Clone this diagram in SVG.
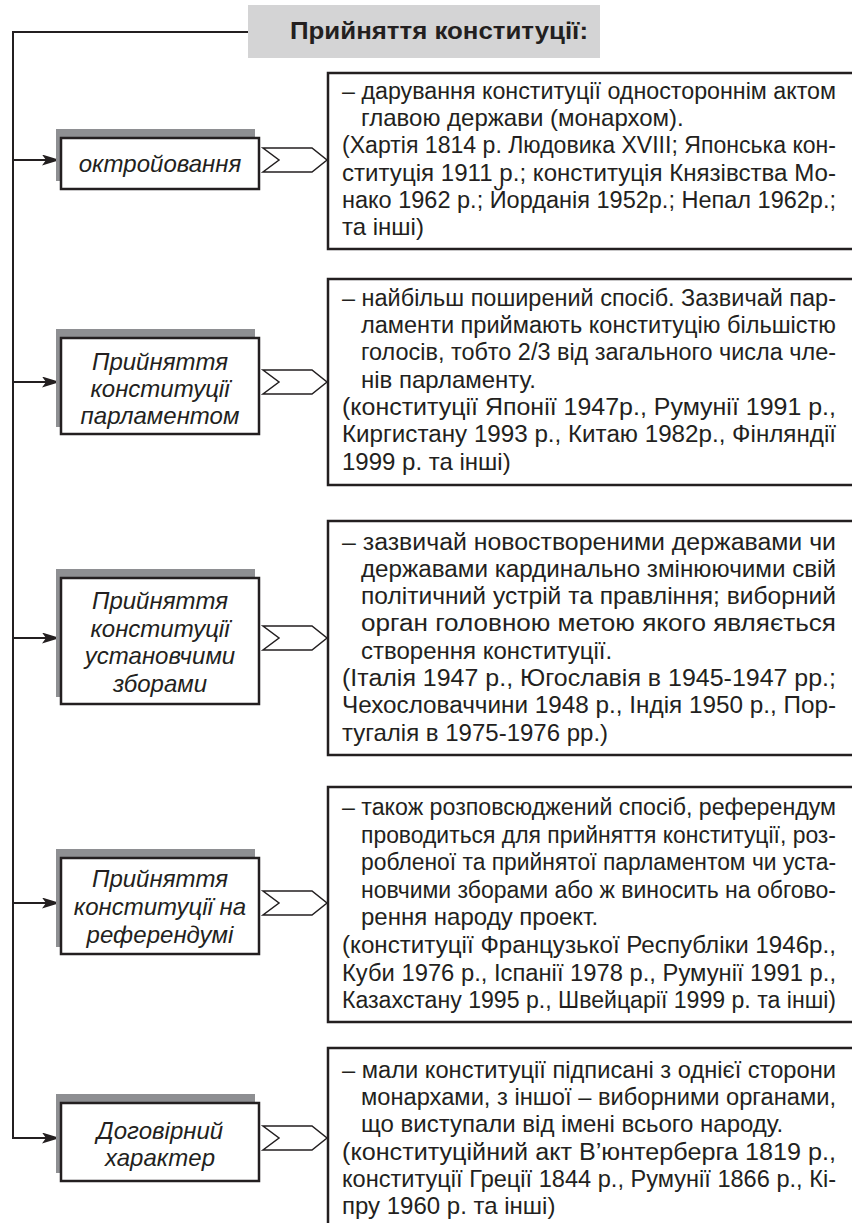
<svg xmlns="http://www.w3.org/2000/svg" width="852" height="1223" viewBox="0 0 852 1223">
<defs>
<marker id="ah" viewBox="0 0 18 11" refX="18" refY="5.5" markerWidth="18" markerHeight="11" markerUnits="userSpaceOnUse" orient="auto">
<path d="M0,0 L18,5.5 L0,11 L4,5.5 Z" fill="#231f20"/>
</marker>
<style>
.bg{fill:#ffffff}
.hdr{fill:#d4d4d5}
.hdrt{font-family:"Liberation Sans",Arial,sans-serif;font-weight:bold;font-size:23px;fill:#231f20}
.shadow{fill:#8e8f92}
.nbox{fill:#ffffff;stroke:#231f20;stroke-width:2.5}
.nt{font-family:"Liberation Sans",Arial,sans-serif;font-style:italic;font-size:24px;fill:#231f20;text-anchor:middle}
.tbox{fill:none;stroke:#231f20;stroke-width:2.5}
.tt{font-family:"Liberation Sans",Arial,sans-serif;font-size:24px;fill:#231f20}
.tj{font-family:"Liberation Sans",Arial,sans-serif;font-size:23px;fill:#231f20}
.chev{fill:#ffffff;stroke:#231f20;stroke-width:1.5;stroke-linejoin:miter}
.conn{fill:none;stroke:#231f20;stroke-width:2}
</style>
</defs>
<rect class="bg" x="0" y="0" width="852" height="1223"/>

<g id="header">
<rect class="hdr" x="248" y="5" width="352" height="53"/>
<text class="hdrt" x="290" y="39" textLength="298" lengthAdjust="spacingAndGlyphs">Прийняття конституції:</text>
</g>

<g id="connectors">
<path class="conn" d="M248,32 H13 V1138 H60" marker-end="url(#ah)"/>
<path class="conn" d="M13,160 H60" marker-end="url(#ah)"/>
<path class="conn" d="M13,382 H60" marker-end="url(#ah)"/>
<path class="conn" d="M13,638 H60" marker-end="url(#ah)"/>
<path class="conn" d="M13,903 H60" marker-end="url(#ah)"/>
<polygon class="chev" points="263,148 312,148 327,160 312,172 263,172 279,160"/>
<polygon class="chev" points="263,370 312,370 327,382 312,394 263,394 279,382"/>
<polygon class="chev" points="263,626 312,626 327,638 312,650 263,650 279,638"/>
<polygon class="chev" points="263,891 312,891 327,903 312,915 263,915 279,903"/>
<polygon class="chev" points="263,1126 312,1126 327,1138 312,1150 263,1150 279,1138"/>
</g>

<g id="node1">
<rect class="shadow" x="56" y="129" width="199" height="52"/>
<rect class="nbox" x="61" y="138" width="198" height="51"/>
<text class="nt" x="160" y="172">октройовання</text>
</g>

<g id="node2">
<rect class="shadow" x="56" y="329" width="199" height="98"/>
<rect class="nbox" x="61" y="338" width="198" height="96"/>
<text class="nt" x="160" y="370">Прийняття</text>
<text class="nt" x="160" y="397">конституції</text>
<text class="nt" x="160" y="424">парламентом</text>
</g>

<g id="node3">
<rect class="shadow" x="56" y="569" width="199" height="128"/>
<rect class="nbox" x="61" y="578" width="198" height="126"/>
<text class="nt" x="160" y="609">Прийняття</text>
<text class="nt" x="160" y="637">конституції</text>
<text class="nt" x="160" y="664">установчими</text>
<text class="nt" x="160" y="692">зборами</text>
</g>

<g id="node4">
<rect class="shadow" x="56" y="849" width="199" height="98"/>
<rect class="nbox" x="61" y="858" width="198" height="96"/>
<text class="nt" x="160" y="887">Прийняття</text>
<text class="nt" x="160" y="915">конституції на</text>
<text class="nt" x="160" y="943">референдумі</text>
</g>

<g id="node5">
<rect class="shadow" x="56" y="1094" width="199" height="79"/>
<rect class="nbox" x="61" y="1103" width="198" height="78"/>
<text class="nt" x="160" y="1139">Договірний</text>
<text class="nt" x="160" y="1166">характер</text>
</g>

<g id="desc1">
<path class="tbox" d="M856,73 H328 V249 H856"/>
<text class="tj" x="342" y="99" textLength="494" lengthAdjust="spacingAndGlyphs">– дарування конституції одностороннім актом</text>
<text class="tt" x="361" y="126">главою держави (монархом).</text>
<text class="tj" x="342" y="153" textLength="494" lengthAdjust="spacingAndGlyphs">(Хартія 1814 р. Людовика XVIII; Японська кон-</text>
<text class="tj" x="342" y="181" textLength="494" lengthAdjust="spacingAndGlyphs">ституція 1911 р.; конституція Князівства Мо-</text>
<text class="tj" x="342" y="208" textLength="494" lengthAdjust="spacingAndGlyphs">нако 1962 р.; Йорданія 1952р.; Непал 1962р.;</text>
<text class="tt" x="342" y="235">та інші)</text>
</g>

<g id="desc2">
<path class="tbox" d="M856,279 H328 V485 H856"/>
<text class="tj" x="342" y="306" textLength="494" lengthAdjust="spacingAndGlyphs">– найбільш поширений спосіб. Зазвичай пар-</text>
<text class="tj" x="361" y="333" textLength="475" lengthAdjust="spacingAndGlyphs">ламенти приймають конституцію більшістю</text>
<text class="tj" x="361" y="360" textLength="475" lengthAdjust="spacingAndGlyphs">голосів, тобто 2/3 від загального числа чле-</text>
<text class="tt" x="361" y="388">нів парламенту.</text>
<text class="tj" x="342" y="415" textLength="494" lengthAdjust="spacingAndGlyphs">(конституції Японії 1947р., Румунії 1991 р.,</text>
<text class="tj" x="342" y="442" textLength="494" lengthAdjust="spacingAndGlyphs">Киргистану 1993 р., Китаю 1982р., Фінляндії</text>
<text class="tt" x="342" y="470">1999 р. та інші)</text>
</g>

<g id="desc3">
<path class="tbox" d="M856,521 H328 V755 H856"/>
<text class="tj" x="342" y="550" textLength="494" lengthAdjust="spacingAndGlyphs">– зазвичай новоствореними державами чи</text>
<text class="tj" x="361" y="577" textLength="475" lengthAdjust="spacingAndGlyphs">державами кардинально змінюючими свій</text>
<text class="tj" x="361" y="604" textLength="475" lengthAdjust="spacingAndGlyphs">політичний устрій та правління; виборний</text>
<text class="tj" x="361" y="631" textLength="475" lengthAdjust="spacingAndGlyphs">орган головною метою якого являється</text>
<text class="tt" x="361" y="659">створення конституції.</text>
<text class="tj" x="342" y="686" textLength="494" lengthAdjust="spacingAndGlyphs">(Італія 1947 р., Югославія в 1945-1947 рр.;</text>
<text class="tj" x="342" y="713" textLength="494" lengthAdjust="spacingAndGlyphs">Чехословаччини 1948 р., Індія 1950 р., Пор-</text>
<text class="tt" x="342" y="741">тугалія в 1975-1976 рр.)</text>
</g>

<g id="desc4">
<path class="tbox" d="M856,787 H328 V1022 H856"/>
<text class="tj" x="342" y="815" textLength="494" lengthAdjust="spacingAndGlyphs">– також розповсюджений спосіб, референдум</text>
<text class="tj" x="361" y="843" textLength="475" lengthAdjust="spacingAndGlyphs">проводиться для прийняття конституції, роз-</text>
<text class="tj" x="361" y="870" textLength="475" lengthAdjust="spacingAndGlyphs">робленої та прийнятої парламентом чи уста-</text>
<text class="tj" x="361" y="898" textLength="475" lengthAdjust="spacingAndGlyphs">новчими зборами або ж виносить на обгово-</text>
<text class="tt" x="361" y="925">рення народу проект.</text>
<text class="tj" x="342" y="953" textLength="494" lengthAdjust="spacingAndGlyphs">(конституції Французької Республіки 1946р.,</text>
<text class="tj" x="342" y="981" textLength="494" lengthAdjust="spacingAndGlyphs">Куби 1976 р., Іспанії 1978 р., Румунії 1991 р.,</text>
<text class="tj" x="342" y="1008" textLength="494" lengthAdjust="spacingAndGlyphs">Казахстану 1995 р., Швейцарії 1999 р. та інші)</text>
</g>

<g id="desc5">
<path class="tbox" d="M856,1048 H328 V1230"/>
<text class="tj" x="342" y="1078" textLength="494" lengthAdjust="spacingAndGlyphs">– мали конституції підписані з однієї сторони</text>
<text class="tj" x="361" y="1105" textLength="475" lengthAdjust="spacingAndGlyphs">монархами, з іншої – виборними органами,</text>
<text class="tt" x="361" y="1132">що виступали від імені всього народу.</text>
<text class="tj" x="342" y="1160" textLength="494" lengthAdjust="spacingAndGlyphs">(конституційний акт В’юнтерберга 1819 р.,</text>
<text class="tj" x="342" y="1187" textLength="494" lengthAdjust="spacingAndGlyphs">конституції Греції 1844 р., Румунії 1866 р., Кі-</text>
<text class="tt" x="342" y="1214">пру 1960 р. та інші)</text>
</g>
</svg>
